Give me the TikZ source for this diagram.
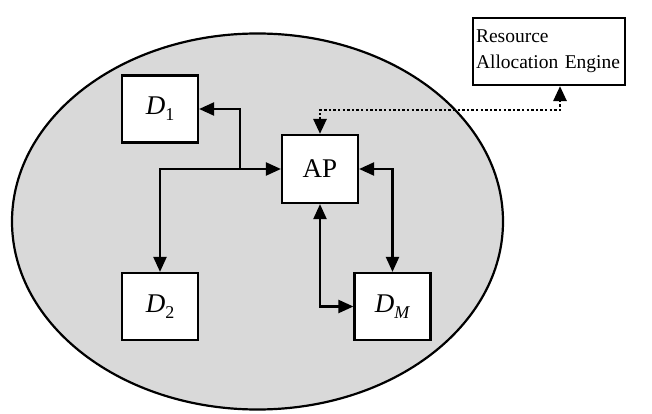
\documentclass[tikz,border=0pt]{standalone}
\usepackage{fontspec}
\setmainfont{Liberation Serif}
\usetikzlibrary{arrows.meta}
\newcommand{\dev}[1]{\textit{D}\raisebox{-0.22em}{\fontsize{18}{18}\selectfont #1}}
\begin{document}
\begin{tikzpicture}[x=1pt,y=-1pt,
  box/.style={draw=black,fill=white,line width=2.2pt,inner sep=0pt,
    minimum width=76pt,minimum height=67pt,font=\fontsize{27}{30}\selectfont},
  tri/.tip={Triangle[length=15pt,width=13pt]},
  link/.style={line width=2.2pt,tri-tri},
  dotlink/.style={line width=2.8pt,dash pattern=on 2.4pt off 2.2pt,tri-tri}]
\useasboundingbox (0,0) rectangle (652,414);
% cell boundary
\draw[line width=2.2pt,fill={rgb,255:red,217;green,217;blue,217}]
  (257.5,221.5) ellipse [x radius=245.5pt,y radius=188pt];
% devices and access point
\node[box] (D1) at (160,109) {\dev{1}};
\node[box] (D2) at (160,306.5) {\dev{2}};
\node[box] (DM) at (392.5,306.5) {\dev{\textit{M}}};
\node[box,minimum height=68pt] (AP) at (320,169) {AP};
% controller outside the cell
\node[draw=black,fill=white,line width=2.2pt,minimum width=152pt,minimum height=67pt,
  inner sep=0pt,text width=146pt,align=left,
  font=\fontsize{19.5}{26}\selectfont] (RAE) at (549,51.5)
  {Resource\\Allocation Engine};
% links
\coordinate (j) at (240,169);
\coordinate (t) at (560,110);
\draw[link] (D2.north) |- (AP.west);
\draw[line width=2.2pt,-tri] (j) |- (D1.east);
\draw[link] (AP.south) |- (DM.west);
\draw[link] (AP.east) -| (DM.north);
\draw[dotlink] (AP.north) |- (t) -- (t |- RAE.south);
\end{tikzpicture}
\end{document}
